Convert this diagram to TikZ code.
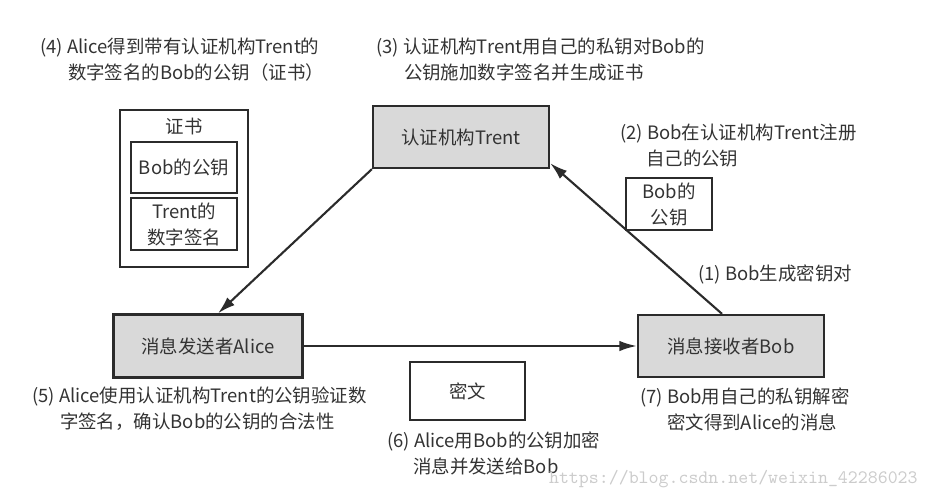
\documentclass[tikz,border=0pt]{standalone}
\usepackage{fontspec}
\setmainfont{Noto Sans CJK SC}
\usepackage{tikz}
\usetikzlibrary{arrows.meta,positioning,fit}
\definecolor{boxgray}{HTML}{D9D9D9}
\definecolor{lineblack}{HTML}{2B2B2B}
\definecolor{textgray}{HTML}{333333}

\begin{document}
\begin{tikzpicture}[
    x=0.02cm, y=-0.02cm,
    font=\fontsize{10.5}{14.8}\selectfont, text=textgray,
    party/.style={draw=lineblack, fill=boxgray, rectangle, line width=1.3pt, inner sep=0pt},
    plainbox/.style={draw=lineblack, fill=white, rectangle, line width=1.2pt, inner sep=0pt, align=center},
    note/.style={anchor=north west, inner sep=0pt, align=left},
    arrow/.style={-{Latex[length=10pt,width=6pt]}, draw=lineblack, line width=1.2pt}
  ]
    \useasboundingbox (0,0) rectangle (929,500);
    \node[party, minimum width=3.52cm, minimum height=1.24cm] (trent) at (461,137) {认证机构Trent};
    \node[party, minimum width=3.78cm, minimum height=1.26cm] (alice) at (208,346) {消息发送者Alice};
    \node[party, minimum width=3.72cm, minimum height=1.24cm] (bob) at (731,346) {消息接收者Bob};
    \node[plainbox, minimum width=2.56cm, minimum height=3.14cm] (cert) at (184,188.5) {};
    \node[inner sep=0pt] (certtitle) at (184,127) {证书};
    \node[plainbox, minimum width=2.12cm, minimum height=1.02cm] (pk) at (184,167.5) {Bob的公钥};
    \node[plainbox, minimum width=2.12cm, minimum height=1.04cm] (sig) at (184,224) {Trent的\\数字签名};
    \node[plainbox, minimum width=1.72cm, minimum height=1.04cm] (bobkey) at (669,204) {Bob的\\公钥};
    \node[plainbox, minimum width=2.3cm, minimum height=1.16cm] (cipher) at (467.5,391) {密文};
    \node[note] (n4) at (40,38) {(4) Alice得到带有认证机构Trent的\\\hspace*{1.5em}数字签名的Bob的公钥（证书）};
    \node[note] (n3) at (376,38) {(3) 认证机构Trent用自己的私钥对Bob的\\\hspace*{1.5em}公钥施加数字签名并生成证书};
    \node[note] (n2) at (620,124) {(2) Bob在认证机构Trent注册\\\hspace*{1.4em}自己的公钥};
    \node[note] (n1) at (698,264) {(1) Bob生成密钥对};
    \node[note] (n5) at (32,387) {(5) Alice使用认证机构Trent的公钥验证数\\\hspace*{1.5em}字签名，确认Bob的公钥的合法性};
    \node[note] (n7) at (640,387) {(7) Bob用自己的私钥解密\\\hspace*{1.45em}密文得到Alice的消息};
    \node[note] (n6) at (387,431) {(6) Alice用Bob的公钥加密\\\hspace*{1.4em}消息并发送给Bob};
    \node[anchor=east, inner sep=0pt, font=\ttfamily\fontsize{10.8}{12}\selectfont, text=gray!40] (mark) at (918,479) {https://blog.csdn.net/weixin\_42286023};
    \draw[arrow] (trent.south west) -- ([xshift=0.2cm]alice.north);
    \draw[arrow] ([xshift=-0.18cm]bob.north) -- ([yshift=0.12cm]trent.south east);
    \draw[arrow] (alice) -- (bob);
  \end{tikzpicture}
\end{document}
